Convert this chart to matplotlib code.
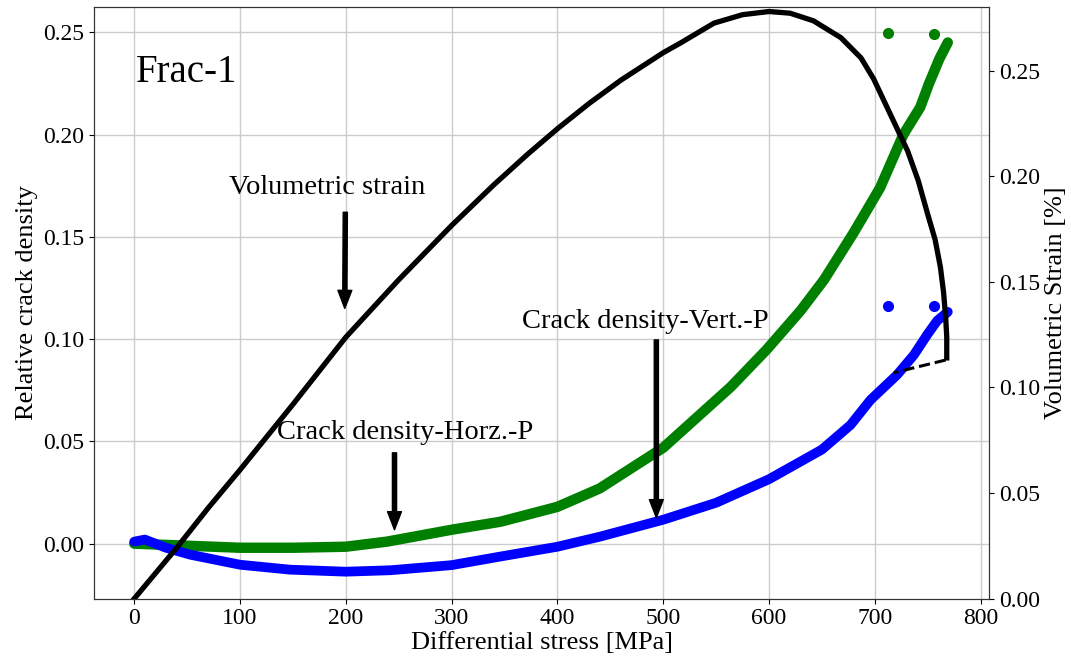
import matplotlib.pyplot as plt

plt.rcParams['font.family'] = ['Liberation Serif', 'DejaVu Serif']

# differential stress [MPa] vs volumetric strain [%] (right axis)
vs_x = [0, 20, 40, 70, 100, 150, 200, 250, 300, 340, 372, 400, 430, 460, 500, 516, 548, 575, 600, 620,
        642, 668, 687, 699, 715, 731, 741, 750, 757, 762, 765, 767, 768, 768]
vs_y = [0.0, 0.012, 0.024, 0.043, 0.061, 0.092, 0.1238, 0.151, 0.1767, 0.196, 0.2105, 0.2225, 0.2345, 0.2455,
        0.2585, 0.263, 0.2725, 0.2765, 0.278, 0.2772, 0.2736, 0.2656, 0.256, 0.246, 0.229, 0.212, 0.198,
        0.182, 0.170, 0.157, 0.145, 0.133, 0.124, 0.114]
# dashed unloading tail
tail_x = [767, 718]
tail_y = [0.113, 0.107]

# relative crack density, horizontal P (green)
horz_x = [0, 50, 100, 150, 200, 239, 300, 346, 400, 440, 500, 564, 598, 630, 652, 680, 705, 727, 743, 751, 761, 769]
horz_y = [0.0, -0.001, -0.002, -0.002, -0.0015, 0.001, 0.0068, 0.0107, 0.018, 0.027, 0.0469, 0.0767, 0.095,
          0.114, 0.129, 0.152, 0.174, 0.200, 0.2134, 0.2246, 0.237, 0.245]
horz_out_x = [712, 756]
horz_out_y = [0.2495, 0.249]

# relative crack density, vertical P (blue)
vert_x = [0, 10, 30, 53, 100, 147, 200, 242, 300, 346, 400, 440, 500, 550, 600, 650, 677, 696, 721, 737, 750, 759, 769]
vert_y = [0.001, 0.002, -0.002, -0.0054, -0.0103, -0.0127, -0.0137, -0.013, -0.0105, -0.0063, -0.0015, 0.0034,
          0.0117, 0.020, 0.0315, 0.046, 0.058, 0.0703, 0.0825, 0.0923, 0.1025, 0.109, 0.1133]
vert_out_x = [712, 756]
vert_out_y = [0.1162, 0.1162]

fig, ax = plt.subplots(figsize=(10.71, 6.63), dpi=100)
fig.subplots_adjust(left=0.0878, right=0.9235, bottom=0.097, top=0.989)

ax.grid(True, color='#cccccc', lw=1)
ax.set_axisbelow(True)

ax.plot(horz_x, horz_y, color='green', lw=7.5, solid_capstyle='round', solid_joinstyle='round')
ax.plot(horz_out_x, horz_out_y, 'o', color='green', ms=7)
ax.plot(vert_x, vert_y, color='blue', lw=7, solid_capstyle='round', solid_joinstyle='round')
ax.plot(vert_out_x, vert_out_y, 'o', color='blue', ms=7)

ax.set_xlim(-38, 808)
ax.set_ylim(-0.0269, 0.2622)
ax.set_xticks(range(0, 801, 100))
ax.set_yticks([0.0, 0.05, 0.10, 0.15, 0.20, 0.25])
ax.set_yticklabels(['0.00', '0.05', '0.10', '0.15', '0.20', '0.25'])
ax.tick_params(labelsize=17)
ax.set_xlabel('Differential stress [MPa]', fontsize=19, labelpad=2)
ax.set_ylabel('Relative crack density', fontsize=19)

ax.text(2, 0.2305, 'Frac-1', fontsize=28, va='center')

arrow = dict(facecolor='black', edgecolor='black', width=3, headwidth=10, headlength=13, shrink=0)
ax.annotate('', xy=(199, 0.115), xytext=(199.5, 0.162), arrowprops=arrow)
ax.text(182, 0.174, 'Volumetric strain', fontsize=20.5, ha='center', va='center')
ax.annotate('', xy=(246, 0.0068), xytext=(246, 0.0444), arrowprops=arrow)
ax.text(256, 0.0542, 'Crack density-Horz.-P', fontsize=20.5, ha='center', va='center')
ax.annotate('', xy=(493.5, 0.0127), xytext=(493.5, 0.0996), arrowprops=arrow)
ax.text(483, 0.1084, 'Crack density-Vert.-P', fontsize=20.5, ha='center', va='center')

ax2 = ax.twinx()
ax2.plot(vs_x, vs_y, color='black', lw=3.8, solid_joinstyle='round')
ax2.plot(tail_x, tail_y, color='black', lw=2.2, ls='--')
ax2.set_ylim(0, 0.28)
ax2.set_yticks([0.0, 0.05, 0.10, 0.15, 0.20, 0.25])
ax2.set_yticklabels(['0.00', '0.05', '0.10', '0.15', '0.20', '0.25'])
ax2.tick_params(labelsize=17)
ax2.set_ylabel('Volumetric Strain [%]', fontsize=19)

for a in (ax, ax2):
    for s in a.spines.values():
        s.set_color('#333333')

fig.savefig('out.png', dpi=100)
